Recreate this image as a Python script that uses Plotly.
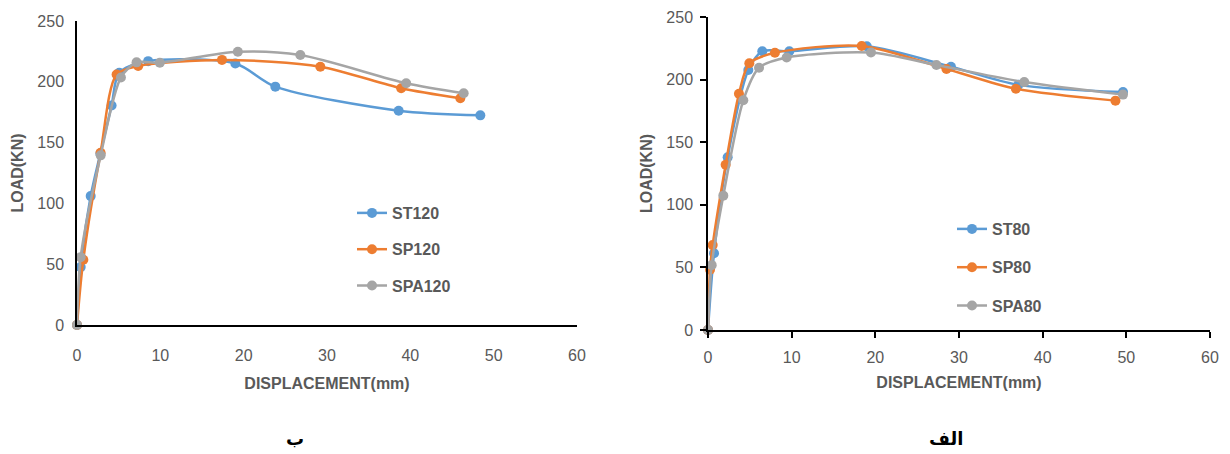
import plotly.graph_objects as go

# ---- Data ----
# Left chart (ب)
st120_x = [0, 0.44, 1.64, 2.8, 4.15, 5.07, 8.54, 19.0, 23.8, 38.6, 48.4]
st120_y = [0, 47.6, 106, 141, 180.5, 207.5, 217, 215, 196, 176.2, 172.4]
sp120_x = [0, 0.76, 2.83, 4.75, 7.34, 17.4, 29.2, 38.9, 46.0]
sp120_y = [0, 53.7, 141.6, 206, 213, 218, 212.4, 194.7, 186.5]
spa120_x = [0, 0.44, 2.84, 5.27, 7.15, 9.94, 19.3, 26.8, 39.5, 46.4]
spa120_y = [0, 55.8, 139.5, 203.6, 216, 215.7, 224.7, 222, 198.8, 190.6]

# Right chart (الف)
st80_x = [0, 0.72, 2.35, 4.82, 6.49, 9.72, 18.97, 29.04, 37.1, 49.6]
st80_y = [0, 61.3, 138, 207.6, 222.6, 222.6, 226.6, 210.3, 195.8, 190]
sp80_x = [0, 0.24, 0.56, 2.11, 3.7, 4.94, 8.0, 18.37, 28.5, 36.8, 48.7]
sp80_y = [0, 48.1, 67.8, 132, 188.7, 213, 221.4, 226.9, 208.5, 192.7, 183.2]
spa80_x = [0, 0.44, 1.83, 4.22, 6.1, 9.4, 19.48, 27.3, 37.8, 49.6]
spa80_y = [0, 51.8, 107.3, 183.5, 209.5, 217.7, 221.6, 211.6, 198, 188]

x_ticks = [0, 10, 20, 30, 40, 50, 60]
y_ticks = [0, 50, 100, 150, 200, 250]

colors = ["#5B9BD5", "#ED7D31", "#A5A5A5"]
FONT = "Liberation Sans, Arial, sans-serif"
GREY = "#595959"

fig = go.Figure()

left = [("ST120", st120_x, st120_y), ("SP120", sp120_x, sp120_y), ("SPA120", spa120_x, spa120_y)]
right = [("ST80", st80_x, st80_y), ("SP80", sp80_x, sp80_y), ("SPA80", spa80_x, spa80_y)]

for i, (name, xs, ys) in enumerate(left):
    fig.add_trace(go.Scatter(
        x=xs, y=ys, name=name, mode="lines+markers",
        line=dict(color=colors[i], width=2.5, shape="spline", smoothing=0.8),
        marker=dict(color=colors[i], size=10),
        cliponaxis=False, xaxis="x", yaxis="y", legend="legend",
        legendgroup=name))

for i, (name, xs, ys) in enumerate(right):
    fig.add_trace(go.Scatter(
        x=xs, y=ys, name=name, mode="lines+markers",
        line=dict(color=colors[i], width=2.5, shape="spline", smoothing=0.8),
        marker=dict(color=colors[i], size=10),
        cliponaxis=False, xaxis="x2", yaxis="y2", legend="legend2",
        legendgroup=name))

W, H = 1230, 454
OFF = 8  # page body margin offset

def xp(a):
    return (a - OFF) / W

def yp(a):
    return (H - (a - OFF)) / H

tickfont = dict(family=FONT, size=16, color=GREY)
titlefont = dict(family=FONT, size=16, color=GREY, weight="bold")

common_x = dict(range=[0, 60], tickvals=x_ticks, showgrid=False, zeroline=False,
                automargin=False, ticklabeloverflow="allow",
                showline=True, linecolor="black", linewidth=2, tickfont=tickfont)
common_y = dict(range=[0, 250], tickvals=y_ticks, showgrid=False, zeroline=False,
                automargin=False, ticklabeloverflow="allow",
                showline=True, linecolor="black", linewidth=1.5, tickfont=tickfont,
                title=dict(text="LOAD(KN)", font=titlefont, standoff=10))

fig.update_layout(
    width=W, height=H,
    margin=dict(l=0, r=0, t=0, b=0, autoexpand=False),
    paper_bgcolor="white", plot_bgcolor="white",
    xaxis=dict(domain=[xp(77), xp(577)], anchor="y", ticks="", ticklabelstandoff=15,
               title=dict(text="DISPLACEMENT(mm)", font=titlefont, standoff=15), **common_x),
    yaxis=dict(domain=[yp(325), yp(21)], anchor="x", ticks="", ticklabelstandoff=8, **common_y),
    xaxis2=dict(domain=[xp(708), xp(1210)], anchor="y2", ticks="outside", ticklen=6,
                tickcolor="black", tickwidth=2, ticklabelstandoff=6,
                title=dict(text="DISPLACEMENT(mm)", font=titlefont, standoff=12), **common_x),
    yaxis2=dict(domain=[yp(330), yp(17)], anchor="x2", ticks="outside", ticklen=6,
                tickcolor="black", tickwidth=2, ticklabelstandoff=4, **common_y),
    legend=dict(x=xp(352), y=yp(196), xanchor="left", yanchor="top",
                font=dict(family=FONT, size=16, color=GREY, weight="bold"),
                tracegroupgap=12.5, itemwidth=30, bgcolor="rgba(0,0,0,0)"),
    legend2=dict(x=xp(952), y=yp(212), xanchor="left", yanchor="top",
                 font=dict(family=FONT, size=16, color=GREY, weight="bold"),
                 tracegroupgap=14.5, itemwidth=30, bgcolor="rgba(0,0,0,0)"),
    annotations=[
        dict(text="ب", x=276 / W, y=(H - 443) / H, xref="paper", yref="paper",
             showarrow=False, font=dict(family="DejaVu Sans", size=18, color="black", weight="bold")),
        dict(text="الف", x=957 / W, y=(H - 443) / H, xref="paper", yref="paper",
             showarrow=False, font=dict(family="DejaVu Sans", size=18, color="black", weight="bold")),
    ],
)

fig.write_html("out.html")
